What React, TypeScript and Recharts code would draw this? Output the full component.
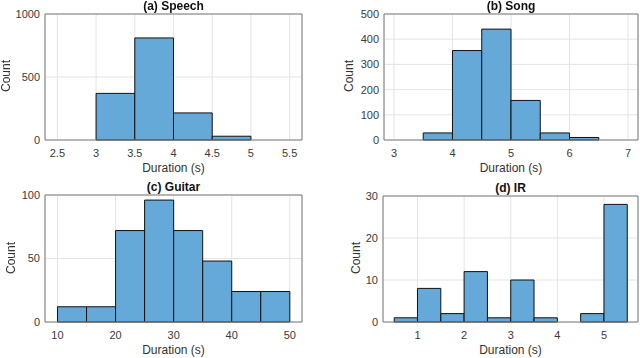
import React from 'react';
import { ComposedChart, Line, XAxis, YAxis, CartesianGrid, ReferenceArea } from 'recharts';

// bin edges and counts per histogram
const speechEdges = [3, 3.5, 4, 4.5, 5];
const speechCounts = [370, 810, 215, 30];
const speechTicksX = [2.5, 3, 3.5, 4, 4.5, 5, 5.5];
const speechTicksY = [0, 500, 1000];

const songEdges = [3.5, 4, 4.5, 5, 5.5, 6, 6.5];
const songCounts = [28, 355, 440, 157, 28, 10];
const songTicksX = [3, 4, 5, 6, 7];
const songTicksY = [0, 100, 200, 300, 400, 500];

const guitarEdges = [10, 15, 20, 25, 30, 35, 40, 45, 50];
const guitarCounts = [12, 12, 72, 96, 72, 48, 24, 24];
const guitarTicksX = [10, 20, 30, 40, 50];
const guitarTicksY = [0, 50, 100];

const irEdges = [0.5, 1, 1.5, 2, 2.5, 3, 3.5, 4, 4.5, 5, 5.5];
const irCounts = [1, 8, 2, 12, 1, 10, 1, 0, 2, 28];
const irTicksX = [1, 2, 3, 4, 5];
const irTicksY = [0, 10, 20, 30];

const FONT = '"Liberation Sans", Arial, Helvetica, sans-serif';
const BAR_FILL = '#64a9d8';

type PanelProps = {
  title: string;
  edges: number[];
  counts: number[];
  xDomain: [number, number];
  xTicks: number[];
  yTicks: number[];
  left: number; // panel offset
  top: number;
  plot: { x: number; y: number; w: number; h: number }; // plot box in page coords
  yAxisWidth: number;
  countX: number; // centre of the rotated "Count" label, page coords
};

const PANEL_W = 320;
const PANEL_H = 179;
const X_AXIS_H = 28;

const Panel: React.FC<PanelProps> = ({ title, edges, counts, xDomain, xTicks, yTicks, left, top, plot, yAxisWidth, countX }) => {
  const rows = counts.map((c, i) => ({ mid: (edges[i] + edges[i + 1]) / 2, count: c, lo: edges[i], hi: edges[i + 1] }));
  const yMax = yTicks[yTicks.length - 1];
  const margin = {
    top: plot.y - top,
    left: plot.x - left - yAxisWidth,
    right: left + PANEL_W - (plot.x + plot.w),
    bottom: top + PANEL_H - (plot.y + plot.h) - X_AXIS_H,
  };
  const cx = plot.x - left + plot.w / 2;
  const cy = plot.y - top + plot.h / 2;

  return (
    <div style={{ position: 'absolute', left, top, width: PANEL_W, height: PANEL_H, fontFamily: FONT }}>
      <ComposedChart width={PANEL_W} height={PANEL_H} data={rows} margin={margin}>
        <CartesianGrid stroke="#e4e4e4" />
        <XAxis
          dataKey="mid"
          type="number"
          domain={xDomain}
          ticks={xTicks}
          allowDataOverflow
          tickLine={false}
          tickSize={0}
          tickMargin={9}
          axisLine={false}
          height={X_AXIS_H}
          tick={{ fontSize: 11, fill: '#3a3a3a', fontFamily: FONT }}
        />
        <YAxis
          type="number"
          domain={[0, yMax]}
          ticks={yTicks}
          tickLine={false}
          tickSize={0}
          tickMargin={5}
          axisLine={false}
          width={yAxisWidth}
          tick={{ fontSize: 11, fill: '#3a3a3a', fontFamily: FONT }}
        />
        {rows.filter(r => r.count > 0).map((r, i) => (
          <ReferenceArea
            key={`bin-${i}`}
            x1={r.lo}
            x2={r.hi}
            y1={0}
            y2={r.count}
            fill={BAR_FILL}
            fillOpacity={1}
            stroke="#111"
            strokeWidth={1}
            ifOverflow="visible"
          />
        ))}
        <ReferenceArea
          x1={xDomain[0]}
          x2={xDomain[1]}
          y1={0}
          y2={yMax}
          fill="none"
          stroke="#7a7a7a"
          strokeWidth={1}
          ifOverflow="visible"
        />
        <Line dataKey="count" stroke="none" dot={false} activeDot={false} isAnimationActive={false} />
      </ComposedChart>
      <div style={{ position: 'absolute', left: cx - 80, width: 160, top: plot.y - top - 15, textAlign: 'center', fontSize: 12, fontWeight: 'bold', color: '#111' }}>
        {title}
      </div>
      <div style={{ position: 'absolute', left: cx - 80, width: 160, top: plot.y - top + plot.h + 21, textAlign: 'center', fontSize: 12, color: '#333' }}>
        Duration (s)
      </div>
      <div
        style={{
          position: 'absolute',
          left: countX - left - 40,
          width: 80,
          top: cy - 8,
          textAlign: 'center',
          fontSize: 12,
          color: '#333',
          transform: 'rotate(-90deg)',
        }}
      >
        Count
      </div>
    </div>
  );
};

export default function App() {
  return (
    <div style={{ position: 'fixed', left: 0, top: 0, width: 640, height: 358, background: '#fff' }}>
      <Panel title="(a) Speech" edges={speechEdges} counts={speechCounts} xDomain={[2.34, 5.66]} xTicks={speechTicksX} yTicks={speechTicksY}
        left={0} top={0} plot={{ x: 45, y: 14, w: 257, h: 126 }} yAxisWidth={34} countX={6} />
      <Panel title="(b) Song" edges={songEdges} counts={songCounts} xDomain={[2.83, 7.17]} xTicks={songTicksX} yTicks={songTicksY}
        left={320} top={0} plot={{ x: 384, y: 14, w: 254, h: 126 }} yAxisWidth={30} countX={349} />
      <Panel title="(c) Guitar" edges={guitarEdges} counts={guitarCounts} xDomain={[7.85, 52.1]} xTicks={guitarTicksX} yTicks={guitarTicksY}
        left={0} top={179} plot={{ x: 45, y: 195, w: 257, h: 127 }} yAxisWidth={30} countX={11} />
      <Panel title="(d) IR" edges={irEdges} counts={irCounts} xDomain={[0.26, 5.73]} xTicks={irTicksX} yTicks={irTicksY}
        left={320} top={179} plot={{ x: 383, y: 196, w: 255, h: 126 }} yAxisWidth={26} countX={356} />
    </div>
  );
}
